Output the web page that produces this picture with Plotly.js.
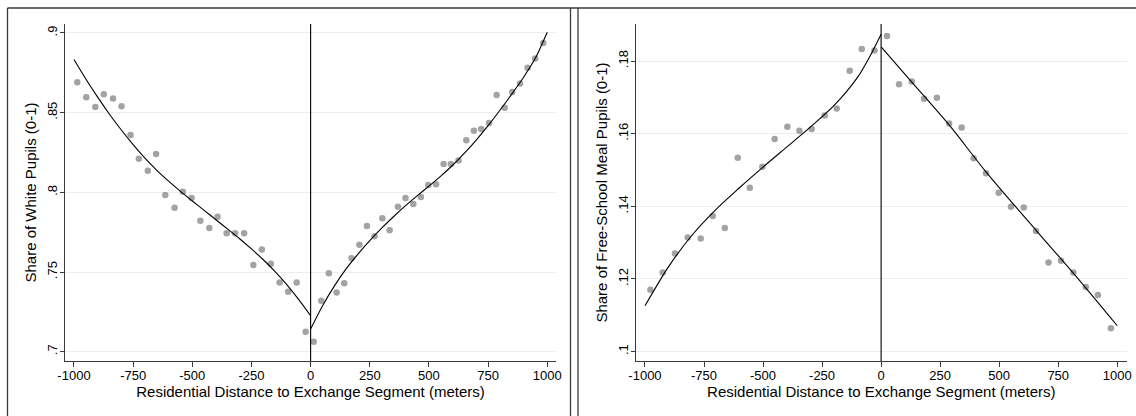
<!DOCTYPE html>
<html>
<head>
<meta charset="utf-8">
<script src="https://cdn.plot.ly/plotly-3.0.1.min.js"></script>
<style>html,body{margin:0;padding:0;background:#fff;}#chart{width:1136px;height:416px;}</style>
</head>
<body>
<div id="chart"></div>
<script>
// ---- Data ----
// Panel 1: share of White pupils, binned means
const whiteLeftX = [-986,-948,-910,-874,-835,-799,-761,-726,-688,-653,-614,-575,-540,-503,-466,-428,-393,-355,-319,-281,-242,-206,-168,-131,-95,-59,-21];
const whiteLeftY = [0.8690,0.8596,0.8536,0.8615,0.8588,0.8540,0.8360,0.8211,0.8136,0.8241,0.7983,0.7904,0.8004,0.7964,0.7822,0.7776,0.7847,0.7743,0.7743,0.7743,0.7544,0.7642,0.7552,0.7435,0.7377,0.7435,0.7126];
const whiteRightX = [13,45,77,110,142,173,206,238,270,303,334,369,401,434,466,497,530,562,593,625,658,690,721,754,786,820,852,885,917,949,983];
const whiteRightY = [0.7063,0.7320,0.7492,0.7372,0.7429,0.7586,0.7672,0.7789,0.7724,0.7837,0.7762,0.7910,0.7964,0.7927,0.7971,0.8046,0.8050,0.8178,0.8178,0.8199,0.8326,0.8387,0.8398,0.8435,0.8611,0.8531,0.8630,0.8682,0.8782,0.8839,0.8937];
// fitted curves
const whiteFitLeftX = [-1000,-950,-900,-850,-800,-750,-700,-650,-600,-550,-500,-450,-400,-350,-300,-250,-200,-150,-100,-50,0];
const whiteFitLeftY = [0.8833,0.8711,0.8597,0.8490,0.8391,0.8299,0.8214,0.8138,0.8070,0.8006,0.7946,0.7887,0.7828,0.7769,0.7709,0.7645,0.7577,0.7503,0.7420,0.7327,0.7226];
const whiteFitRightX = [0,50,100,150,200,250,300,350,400,450,500,550,600,650,700,750,800,850,900,950,1000];
const whiteFitRightY = [0.7142,0.7287,0.7412,0.7520,0.7613,0.7697,0.7775,0.7847,0.7915,0.7978,0.8039,0.8102,0.8170,0.8246,0.8328,0.8418,0.8515,0.8616,0.8722,0.8842,0.9004];

// Panel 2: share of free-school meal pupils
const fsmLeftX = [-977,-925,-873,-819,-764,-713,-662,-607,-556,-503,-451,-397,-346,-294,-239,-188,-133,-82,-28];
const fsmLeftY = [0.1170,0.1218,0.1270,0.1314,0.1311,0.1373,0.1340,0.1534,0.1451,0.1509,0.1585,0.1619,0.1608,0.1613,0.1650,0.1669,0.1773,0.1833,0.1829];
const fsmRightX = [25,76,130,182,236,288,341,392,444,498,550,604,656,709,762,814,867,918,973];
const fsmRightY = [0.1869,0.1736,0.1744,0.1696,0.1699,0.1628,0.1617,0.1532,0.1491,0.1437,0.1399,0.1397,0.1332,0.1245,0.1250,0.1218,0.1178,0.1156,0.1064];
const fsmFitLeftX = [-1000,-900,-800,-700,-600,-500,-400,-300,-200,-100,-50,0];
const fsmFitLeftY = [0.1126,0.1234,0.1321,0.1391,0.1451,0.1508,0.1563,0.1618,0.1677,0.1755,0.1810,0.1874];
const fsmFitRightX = [0,130,288,444,656,814,1000];
const fsmFitRightY = [0.1839,0.1742,0.1624,0.1495,0.1334,0.1216,0.1071];

const xTicks = [-1000,-750,-500,-250,0,250,500,750,1000];
const whiteTicks = [0.7,0.75,0.8,0.85,0.9];
const whiteTickText = ['.7','.75','.8','.85','.9'];
const fsmTicks = [0.1,0.12,0.14,0.16,0.18];
const fsmTickText = ['.1','.12','.14','.16','.18'];

const xTitle = 'Residential Distance to Exchange Segment (meters)';
const whiteTitle = 'Share of White Pupils (0-1)';
const fsmTitle = 'Share of Free-School Meal Pupils (0-1)';

// ---- Styling ----
const W = 1136, H = 416;
const FONT = 'Liberation Sans, Arial, Helvetica, sans-serif';
const dotColor = '#a3a3a3';
const gridColor = '#e7eff0';
const axisColor = '#3a3a3a';

function dots(x, y, xa, ya) {
  return {x: x, y: y, xaxis: xa, yaxis: ya, type: 'scatter', mode: 'markers',
    marker: {color: dotColor, size: 6.5}, hoverinfo: 'skip', showlegend: false};
}
function fit(x, y, xa, ya) {
  return {x: x, y: y, xaxis: xa, yaxis: ya, type: 'scatter', mode: 'lines',
    line: {color: '#000', width: 1.1, shape: 'spline', smoothing: 0.8}, hoverinfo: 'skip', showlegend: false};
}

const data = [
  dots(whiteLeftX, whiteLeftY, 'x', 'y'),
  dots(whiteRightX, whiteRightY, 'x', 'y'),
  fit(whiteFitLeftX, whiteFitLeftY, 'x', 'y'),
  fit(whiteFitRightX, whiteFitRightY, 'x', 'y'),
  dots(fsmLeftX, fsmLeftY, 'x2', 'y2'),
  dots(fsmRightX, fsmRightY, 'x2', 'y2'),
  fit(fsmFitLeftX, fsmFitLeftY, 'x2', 'y2'),
  fit(fsmFitRightX, fsmFitRightY, 'x2', 'y2')
];

const yDom = [(H - 361) / H, (H - 24) / H];

function xAxis(domain, range, anchor) {
  return {domain: domain, range: range, anchor: anchor, tickvals: xTicks,
    ticktext: xTicks.map(String), ticks: 'outside', ticklen: 5, tickwidth: 1, tickcolor: axisColor,
    ticklabelstandoff: -3,
    showline: true, linecolor: axisColor, linewidth: 1, showgrid: false, zeroline: false,
    tickfont: {family: FONT, size: 13, color: '#000'},
    title: {text: xTitle, font: {family: FONT, size: 15, color: '#000'}, standoff: 4},
    fixedrange: true};
}
function yAxis(range, vals, text, title, anchor) {
  return {domain: yDom, range: range, anchor: anchor, tickvals: vals, ticktext: text,
    ticks: 'outside', ticklen: 4, tickwidth: 1, tickcolor: axisColor, tickangle: -90,
    ticklabelstandoff: -2,
    showline: true, linecolor: axisColor, linewidth: 1, showgrid: true, gridcolor: gridColor, gridwidth: 1,
    zeroline: false, tickfont: {family: FONT, size: 13, color: '#000'},
    title: {text: title, font: {family: FONT, size: 15, color: '#000'}, standoff: 4},
    fixedrange: true};
}

const topY = (H - 8) / H;
const borderColor = '#3a3a3a';
const shapes = [
  {type: 'line', xref: 'x', yref: 'y domain', x0: 0, x1: 0, y0: 0, y1: 1, line: {color: '#000', width: 1.1}},
  {type: 'line', xref: 'x2', yref: 'y2 domain', x0: 0, x1: 0, y0: 0, y1: 1, line: {color: '#000', width: 1.1}},
  // panel borders
  {type: 'line', xref: 'paper', yref: 'paper', x0: 7.5 / W, x1: 1.01, y0: topY, y1: topY, line: {color: borderColor, width: 1.3}},
  {type: 'line', xref: 'paper', yref: 'paper', x0: 7.5 / W, x1: 7.5 / W, y0: -0.02, y1: topY, line: {color: borderColor, width: 1.3}},
  {type: 'line', xref: 'paper', yref: 'paper', x0: 570.5 / W, x1: 570.5 / W, y0: -0.02, y1: topY, line: {color: borderColor, width: 1.3}},
  {type: 'line', xref: 'paper', yref: 'paper', x0: 578 / W, x1: 578 / W, y0: -0.02, y1: topY, line: {color: borderColor, width: 1.3}}
];

const layout = {
  width: W, height: H,
  margin: {l: 0, r: 0, t: 0, b: 0, pad: 0},
  paper_bgcolor: '#fff', plot_bgcolor: '#fff',
  font: {family: FONT, color: '#000'},
  showlegend: false,
  xaxis: xAxis([65 / W, 556 / W], [-1038, 1037], 'y'),
  yaxis: yAxis([0.6942, 0.9056], whiteTicks, whiteTickText, whiteTitle, 'x'),
  xaxis2: xAxis([636 / W, 1126.7 / W], [-1038, 1040], 'y2'),
  yaxis2: yAxis([0.0974, 0.1902], fsmTicks, fsmTickText, fsmTitle, 'x2'),
  shapes: shapes
};

Plotly.newPlot('chart', data, layout, {staticPlot: true, displayModeBar: false});
</script>
</body>
</html>
